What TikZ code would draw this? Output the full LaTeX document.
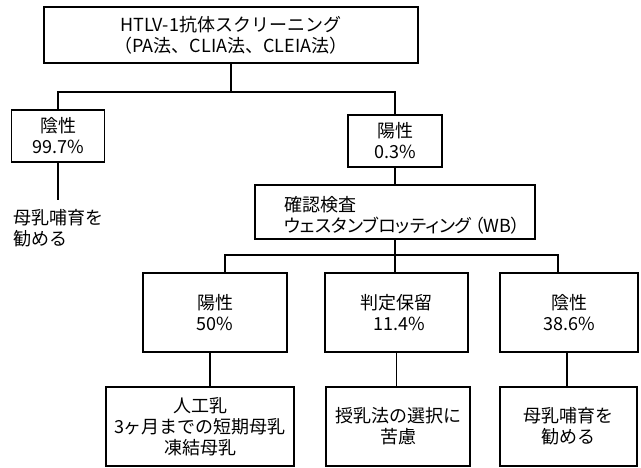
\documentclass[tikz,border=0pt]{standalone}
\usepackage{fontspec}
\setmainfont{Noto Sans CJK JP}
\newfontfamily\jpprop[RawFeature=+palt]{Noto Sans CJK JP}
\begin{document}
\begin{tikzpicture}[x=1pt,y=-1pt,
  txt/.style={font=\fontsize{18}{21}\selectfont, inner sep=0pt},
  box/.style={txt, draw, line width=1.4pt, align=center},
  conn/.style={line width=1.3pt}]
\useasboundingbox (0,0) rectangle (641,468);
% top level
\node[box, minimum width=374pt, minimum height=56pt] (top) at (231,35)
  {HTLV-1抗体スクリーニング\\（PA法、CLIA法、CLEIA法）};
\node[box, minimum width=93pt, minimum height=52pt] (neg1) at (58,136) {陰性\\99.7\%};
\node[box, minimum width=94pt, minimum height=52pt] (pos1) at (395,141) {陽性\\0.3\%};
\node[txt, anchor=north west, align=left] (rec1) at (13,209) {母乳哺育を\\勧める};
% confirmation
\node[box, minimum width=280pt, minimum height=54pt] (wb) at (395,212) {};
\node[txt, anchor=west, align=left] (wbt) at (284,215)
  {確認検査\\{\jpprop ウェスタンブロッティング\hspace{3pt}（WB）}};
% second row
\node[box, minimum width=144pt, minimum height=79pt] (pos2) at (215,312.5) {陽性\\50\%};
\node[box, minimum width=143pt, minimum height=79pt] (hold) at (396.5,312.5) {判定保留\\\hspace{6pt}11.4\%};
\node[box, minimum width=138pt, minimum height=79pt] (neg2) at (569,312.5) {陰性\\38.6\%};
% bottom row
\node[box, minimum width=188pt, minimum height=79pt] (art) at (200,426.5) {人工乳\\3ヶ月までの短期母乳\\凍結母乳};
\node[box, minimum width=144pt, minimum height=79pt] (choice) at (398,426.5) {授乳法の選択に\\苦慮};
\node[box, minimum width=137pt, minimum height=79pt] (rec2) at (568.5,426.5) {母乳哺育を\\勧める};
% connectors
\coordinate (b1) at (231,92);
\coordinate (b2) at (395,255);
\coordinate (e1) at (57,200);
\draw[conn] (top.south) -- (b1);
\draw[conn] (neg1.north) |- (b1) -| (pos1.north);
\draw[conn] (neg1.south) -- (neg1.south |- e1);
\draw[conn] (pos1.south) -- (wb.north);
\draw[conn] (wb.south) -- (b2);
\draw[conn] ([xshift=10pt]pos2.north) |- (b2) -| ([xshift=-11pt]neg2.north);
\draw[conn] (hold.north -| b2) -- (b2);
\draw[conn] ([xshift=-5pt]pos2.south) -- ([xshift=-5pt]pos2.south |- art.north);
\draw[conn] (hold.south) -- (hold.south |- choice.north);
\draw[conn] ([xshift=-2pt]neg2.south) -- ([xshift=-2pt]neg2.south |- rec2.north);
\end{tikzpicture}
\end{document}
